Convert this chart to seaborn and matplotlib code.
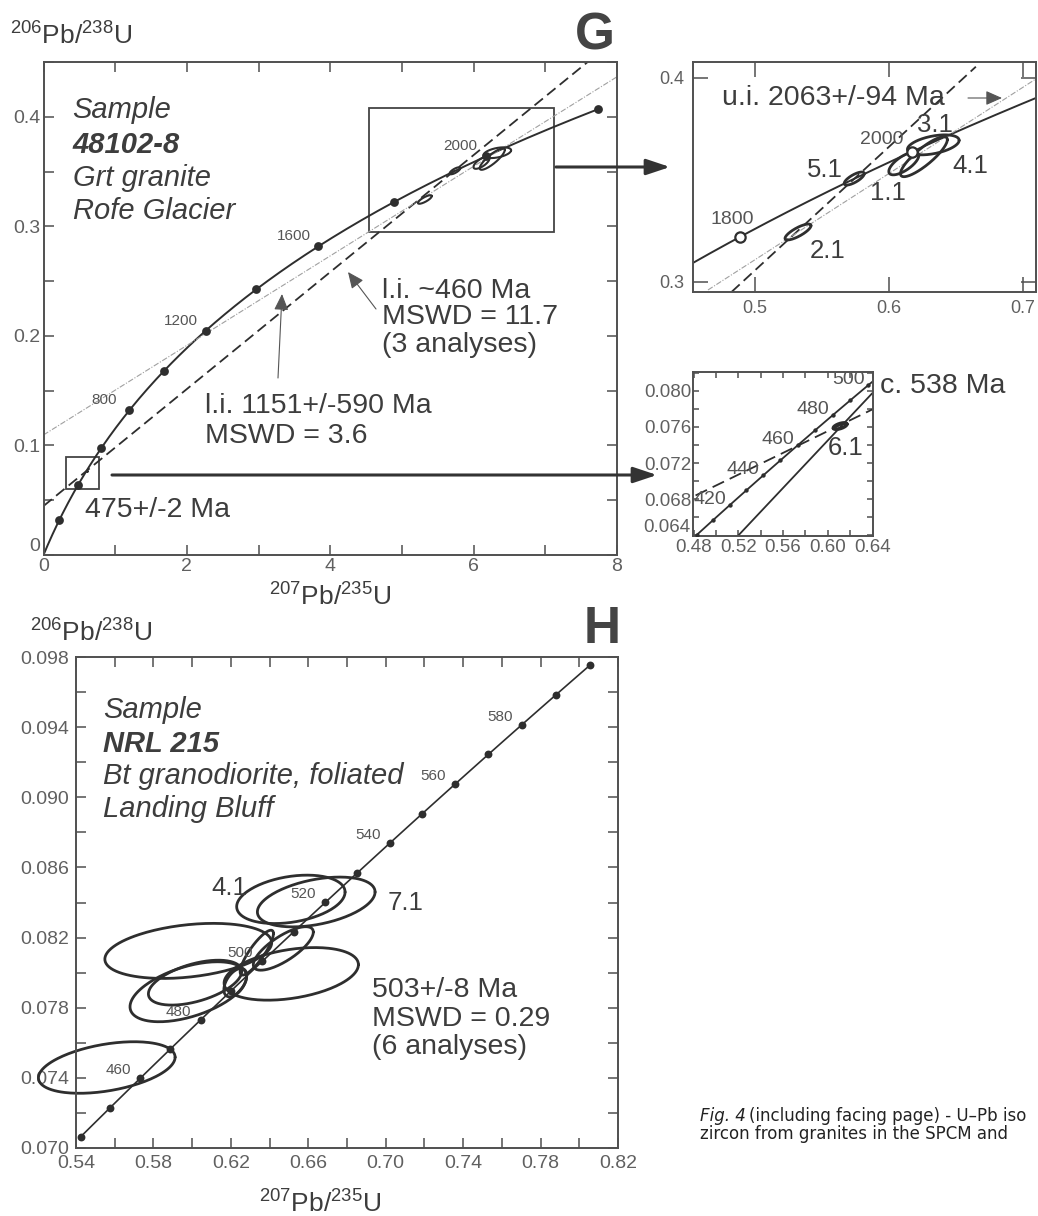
import numpy as np
import seaborn as sns
import matplotlib.pyplot as plt
from matplotlib.ticker import MultipleLocator, FixedLocator, FuncFormatter

sns.set_style("ticks")
plt.rcParams['font.family'] = ['Liberation Sans', 'DejaVu Sans']
plt.rcParams['mathtext.default'] = 'regular'

# decay constants (1/yr) used for the concordia curve
L238 = 1.55125e-10
L235 = 9.8485e-10

# ---------------- panel G (main) ----------------
g_dot_ages = [200, 400, 600, 800, 1000, 1200, 1400, 1600, 1800, 2000, 2200]
g_label_ages = [800, 1200, 1600, 2000]
g_spots = ['1.1', '2.1', '3.1', '4.1', '5.1', '6.1']
g_cx = [6.11, 5.32, 6.33, 6.26, 5.74, 0.611]
g_cy = [0.3581, 0.3245, 0.3672, 0.3614, 0.3507, 0.0761]
g_sx = [0.112, 0.097, 0.193, 0.175, 0.075, 0.006]
g_sy = [0.0056, 0.0039, 0.0049, 0.0098, 0.0032, 0.00035]
g_rho = [0.7, 0.8, 0.45, 0.85, 0.75, 0.6]
g_li460_x = [0.0, 7.6]
g_li460_y = [0.0447, 0.4505]
g_li1151_x = [0.0, 8.0]
g_li1151_y = [0.1096, 0.4365]
g_smallbox = [0.32, 0.0603, 0.78, 0.0892]   # x0, y0, x1, y1

# ---------------- inset 1 (upper intercept) ----------------
i1_dot_ages = [1800, 2000]
i1_dash_x = [4.825, 6.648]
i1_dash_y = [0.2952, 0.4055]
i1_gray_x = [4.648, 7.12]
i1_gray_y = [0.2961, 0.4005]
i1_xlim = (4.536, 7.097)
i1_ylim = (0.2951, 0.4078)

# ---------------- inset 2 (lower intercept) ----------------
i2_dot_ages = [400, 410, 420, 430, 440, 450, 460, 470, 480, 490, 500]
i2_label_ages = [420, 440, 460, 480, 500]
i2_line_x = [0.5188, 0.6397]
i2_line_y = [0.0638, 0.07974]
i2_dash_x = [0.4818, 0.6397]
i2_dash_y = [0.0684, 0.07794]

# ---------------- panel H ----------------
h_dot_ages = list(range(440, 601, 10))
h_label_ages = [460, 480, 500, 520, 540, 560, 580]
h_xticks = [0.54, 0.58, 0.62, 0.66, 0.70, 0.74, 0.78, 0.82]
h_yticks = [0.070, 0.074, 0.078, 0.082, 0.086, 0.090, 0.094, 0.098]
h_cx = [0.6510, 0.6641, 0.5980, 0.6015, 0.5980, 0.6512, 0.6223, 0.6334, 0.6471, 0.5559]
h_cy = [0.08418, 0.08403, 0.08124, 0.07943, 0.07891, 0.07993, 0.07943, 0.08114, 0.08138, 0.07459]
h_sx = [0.0280, 0.0304, 0.0431, 0.0241, 0.0301, 0.0347, 0.0059, 0.0086, 0.0155, 0.0353]
h_sy = [0.00138, 0.00142, 0.00157, 0.00128, 0.00171, 0.00150, 0.00081, 0.00128, 0.00124, 0.00147]
h_rho = [0.3, 0.4, 0.3, 0.5, 0.5, 0.35, 0.5, 0.85, 0.75, 0.4]

INK = '#2e2e2e'
TXT = '#3d3d3d'
TICK = '#606060'
W, H = 1038, 1216


def concordia(ages):
    t = np.asarray(ages, float) * 1e6
    return np.exp(L235 * t) - 1, np.exp(L238 * t) - 1


def ellipse_xy(cx, cy, sx, sy, rho, n=181):
    t = np.linspace(0, 2 * np.pi, n)
    return cx + sx * np.cos(t), cy + sy * (rho * np.cos(t) + np.sqrt(1 - rho ** 2) * np.sin(t))


def box(l, t, r, b):
    return [l / W, 1 - b / H, (r - l) / W, (b - t) / H]


def style(ax, size, length, pad):
    for s in ax.spines.values():
        s.set_color('#505050')
        s.set_linewidth(1.4)
    ax.tick_params(which='both', direction='in', top=True, right=True, length=length,
                   width=1.1, color='#505050', labelsize=size, labelcolor=TICK, pad=pad)


fig = plt.figure(figsize=(W / 100, H / 100), dpi=100)
fig.patch.set_facecolor('white')

# ======== G main ========
axG = fig.add_axes(box(43.5, 62, 617, 555))
cx, cy = concordia(np.arange(0, 2201, 10))
sns.lineplot(x=cx, y=cy, ax=axG, sort=False, estimator=None, color=INK, lw=1.4)
dx, dy = concordia(g_dot_ages)
sns.scatterplot(x=dx, y=dy, ax=axG, color=INK, s=40, linewidth=0, zorder=4)
for a in g_label_ages:
    px, py = concordia([a])
    axG.annotate(str(a), (px[0], py[0]), xytext=(-25, 10), textcoords='offset pixels',
                 ha='center', va='center', fontsize=11, color='#555555')
axG.plot(g_li460_x, g_li460_y, color=INK, lw=1.3, ls=(0, (6, 3)))
axG.plot(g_li1151_x, g_li1151_y, color='#a0a0a0', lw=0.8, ls=(0, (5, 1.5, 1, 1.5)))
for i in range(len(g_spots)):
    ex, ey = ellipse_xy(g_cx[i], g_cy[i], g_sx[i], g_sy[i], g_rho[i])
    axG.plot(ex, ey, color=INK, lw=1.5)
axG.add_patch(plt.Rectangle((i1_xlim[0], i1_ylim[0]), i1_xlim[1] - i1_xlim[0] + 0.03,
                            i1_ylim[1] - i1_ylim[0], fill=False, ec='#444444', lw=1.3))
axG.add_patch(plt.Rectangle((g_smallbox[0], g_smallbox[1]), g_smallbox[2] - g_smallbox[0],
                            g_smallbox[3] - g_smallbox[1], fill=False, ec='#444444', lw=1.3))
axG.set_xlim(0, 8)
axG.set_ylim(0, 0.45)
axG.xaxis.set_major_locator(MultipleLocator(2))
axG.xaxis.set_minor_locator(MultipleLocator(1))
axG.yaxis.set_major_locator(MultipleLocator(0.1))
axG.yaxis.set_minor_locator(MultipleLocator(0.05))
axG.xaxis.set_major_formatter(FuncFormatter(lambda v, p: f'{v:.0f}'))
# the y "0" is drawn by hand a little higher so it sits above the x "0"
axG.yaxis.set_major_formatter(FuncFormatter(lambda v, p: '' if abs(v) < 1e-9 else f'{v:.1f}'))
style(axG, 14, 7, 2)

# ======== inset 1 ========
ax1 = fig.add_axes(box(693, 62, 1036, 292))
cx, cy = concordia(np.arange(1500, 2301, 5))
sns.lineplot(x=cx, y=cy, ax=ax1, sort=False, estimator=None, color=INK, lw=1.4)
dx, dy = concordia(i1_dot_ages)
ax1.scatter(dx, dy, s=55, facecolors='white', edgecolors=INK, linewidths=1.6, zorder=4)
for a, off in zip(i1_dot_ages, [(-8, 17), (-30, 12)]):
    px, py = concordia([a])
    ax1.annotate(str(a), (px[0], py[0]), xytext=off, textcoords='offset pixels',
                 ha='center', va='center', fontsize=14, color='#555555')
ax1.plot(i1_dash_x, i1_dash_y, color=INK, lw=1.3, ls=(0, (6, 3)))
ax1.plot(i1_gray_x, i1_gray_y, color='#a0a0a0', lw=0.8, ls=(0, (5, 1.5, 1, 1.5)))
for i in range(5):
    ex, ey = ellipse_xy(g_cx[i], g_cy[i], g_sx[i], g_sy[i], g_rho[i])
    ax1.plot(ex, ey, color=INK, lw=2.0)
ax1.set_xlim(*i1_xlim)
ax1.set_ylim(*i1_ylim)
ax1.xaxis.set_major_locator(FixedLocator([5, 6, 7]))
ax1.set_xticklabels(['0.5', '0.6', '0.7'])
ax1.yaxis.set_major_locator(FixedLocator([0.3, 0.4]))
ax1.set_yticklabels(['0.3', '0.4'])
style(ax1, 13, 11, 6)

# ======== inset 2 ========
ax2 = fig.add_axes(box(693, 372, 873, 536))
cx, cy = concordia(np.arange(380, 521, 2))
sns.lineplot(x=cx, y=cy, ax=ax2, sort=False, estimator=None, color=INK, lw=1.3)
dx, dy = concordia(i2_dot_ages)
sns.scatterplot(x=dx, y=dy, ax=ax2, color=INK, s=10, linewidth=0, zorder=4)
for a in i2_label_ages:
    px, py = concordia([a])
    ax2.annotate(str(a), (px[0], py[0]), xytext=(-20, 6), textcoords='offset pixels',
                 ha='center', va='center', fontsize=14, color='#555555')
ax2.plot(i2_line_x, i2_line_y, color=INK, lw=1.3)
ax2.plot(i2_dash_x, i2_dash_y, color=INK, lw=1.3, ls=(0, (7, 3.5)))
ex, ey = ellipse_xy(g_cx[5], g_cy[5], g_sx[5], g_sy[5], g_rho[5])
ax2.plot(ex, ey, color=INK, lw=2.6)
ax2.set_xlim(0.4795, 0.6404)
ax2.set_ylim(0.0639, 0.0821)
ax2.xaxis.set_major_locator(MultipleLocator(0.04))
ax2.xaxis.set_minor_locator(MultipleLocator(0.02))
ax2.yaxis.set_major_locator(MultipleLocator(0.004))
ax2.yaxis.set_minor_locator(MultipleLocator(0.002))
ax2.xaxis.set_major_formatter(FuncFormatter(lambda v, p: f'{v:.2f}'))
# the lowest y label is drawn by hand slightly raised, clear of the "0.48"
ax2.yaxis.set_major_formatter(FuncFormatter(lambda v, p: '' if v < 0.0645 else f'{v:.3f}'))
style(ax2, 13.5, 4, 1)
ax2.tick_params(axis='x', pad=2)

# ======== H ========
axH = fig.add_axes(box(76, 657, 618, 1148))
cx, cy = concordia(np.arange(440, 601, 2))
sns.lineplot(x=cx, y=cy, ax=axH, sort=False, estimator=None, color=INK, lw=1.2)
dx, dy = concordia(h_dot_ages)
sns.scatterplot(x=dx, y=dy, ax=axH, color=INK, s=32, linewidth=0, zorder=4)
for a in h_label_ages:
    px, py = concordia([a])
    axH.annotate(str(a), (px[0], py[0]), xytext=(-22, 8), textcoords='offset pixels',
                 ha='center', va='center', fontsize=11, color='#555555')
for i in range(len(h_cx)):
    ex, ey = ellipse_xy(h_cx[i], h_cy[i], h_sx[i], h_sy[i], h_rho[i])
    axH.plot(ex, ey, color=INK, lw=2.0, clip_on=False)
axH.set_xlim(0.54, 0.82)
axH.set_ylim(0.070, 0.098)
axH.xaxis.set_major_locator(FixedLocator(h_xticks))
axH.xaxis.set_minor_locator(MultipleLocator(0.02))
axH.yaxis.set_major_locator(FixedLocator(h_yticks))
axH.yaxis.set_minor_locator(MultipleLocator(0.002))
axH.xaxis.set_major_formatter(FuncFormatter(lambda v, p: f'{v:.2f}'))
axH.yaxis.set_major_formatter(FuncFormatter(lambda v, p: f'{v:.3f}'))
style(axH, 14, 7, 5)

# ======== overlay for labels and arrows (pixel coordinates) ========
ov = fig.add_axes([0, 0, 1, 1], zorder=10)
ov.set_xlim(0, W)
ov.set_ylim(H, 0)
ov.axis('off')
ov.patch.set_alpha(0)

ov.text(40, 551, '0', size=14, color=TICK, ha='right', va='baseline')
ov.text(690, 527, '0.064', size=13.5, color=TICK, ha='right', va='center')

ratio_y = r'$^{206}$Pb/$^{238}$U'
ratio_x = r'$^{207}$Pb/$^{235}$U'
ov.text(10, 45, ratio_y, size=19, color=TXT, va='baseline')
ov.text(330, 606, ratio_x, size=19, color=TXT, va='baseline', ha='center')
ov.text(595, 50, 'G', size=37, weight='bold', color='#444444', va='baseline', ha='center')
ov.text(30, 642, ratio_y, size=19, color=TXT, va='baseline')
ov.text(320, 1213, ratio_x, size=19, color=TXT, va='baseline', ha='center')
ov.text(602, 643, 'H', size=37, weight='bold', color='#444444', va='baseline', ha='center')

big = dict(size=21, color=TXT, va='baseline')
for txt, y, w in [('Sample', 118, 'normal'), ('48102-8', 153, 'bold'),
                  ('Grt granite', 186, 'normal'), ('Rofe Glacier', 219, 'normal')]:
    ov.text(72.6, y, txt, style='italic', weight=w, **big)
for txt, y, w in [('Sample', 718, 'normal'), ('NRL 215', 752, 'bold'),
                  ('Bt granodiorite, foliated', 784, 'normal'), ('Landing Bluff', 817, 'normal')]:
    ov.text(103, y, txt, style='italic', weight=w, **big)

stat = dict(size=20.5, color=TXT, va='baseline')
ov.text(382, 298, 'l.i. ~460 Ma', **stat)
ov.text(382, 324, 'MSWD = 11.7', **stat)
ov.text(382, 352, '(3 analyses)', **stat)
ov.text(205, 413, 'l.i. 1151+/-590 Ma', **stat)
ov.text(205, 443, 'MSWD = 3.6', **stat)
ov.text(85, 517, '475+/-2 Ma', **stat)
ov.text(722, 105, 'u.i. 2063+/-94 Ma', **stat)
ov.text(880, 393, 'c. 538 Ma', **stat)
ov.text(372, 997, '503+/-8 Ma', **stat)
ov.text(372, 1026, 'MSWD = 0.29', **stat)
ov.text(372, 1054, '(6 analyses)', **stat)

mid = dict(size=18.5, color=TXT, va='baseline')
for txt, x, y in [('3.1', 917, 132), ('5.1', 807, 177), ('4.1', 952, 173),
                  ('1.1', 870, 200), ('2.1', 810, 258), ('6.1', 828, 455),
                  ('4.1', 211, 895), ('7.1', 388, 910)]:
    ov.text(x, y, txt, **mid)

thick = dict(arrowstyle='-|>,head_length=0.9,head_width=0.3', lw=2.2, color='#333333',
             mutation_scale=16, shrinkA=0, shrinkB=0)
ov.annotate('', xy=(670, 167), xytext=(556, 167), arrowprops=thick)
ov.annotate('', xy=(657, 475), xytext=(112, 475), arrowprops=thick)
thin = dict(arrowstyle='-|>,head_length=0.9,head_width=0.4', lw=0.8, color='#555555',
            mutation_scale=11, shrinkA=0, shrinkB=0)
ov.annotate('', xy=(348, 272), xytext=(376, 309), arrowprops=thin)
ov.annotate('', xy=(282, 294), xytext=(278, 378), arrowprops=thin)
ov.annotate('', xy=(1002, 98), xytext=(968, 98), arrowprops=thin)

# caption as it shows at the page edge
cap = dict(size=12, color='#222222', va='baseline', family='DejaVu Sans')
ov.text(700, 1121, 'Fig. 4', style='italic', **cap)
ov.text(749, 1121, '(including facing page) - U\u2013Pb iso', **cap)
ov.text(700, 1139, 'zircon from granites in the SPCM and', **cap)

fig.savefig('out.png', dpi=100)
